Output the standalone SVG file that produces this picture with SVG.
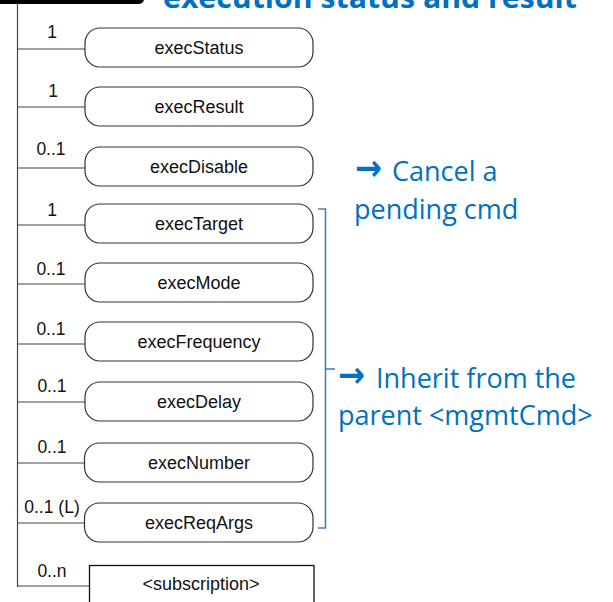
<svg xmlns="http://www.w3.org/2000/svg" width="613" height="602" viewBox="0 0 613 602">
<style>
.box{fill:#fff;stroke:#333;stroke-width:1.2}
.rect{fill:#fff;stroke:#111;stroke-width:1.3}
.name{font-family:"Liberation Sans",Arial,sans-serif;font-size:18px;fill:#111;text-anchor:middle}
.mult{font-family:"Liberation Sans",Arial,sans-serif;font-size:17.5px;fill:#111;text-anchor:middle}
.conn{stroke:#444;stroke-width:1.2;fill:none}
.note{font-family:"Open Sans","Noto Sans",sans-serif;font-size:27px;fill:#0070C0}
.arrow{font-family:"DejaVu Sans",sans-serif;font-size:36px;font-weight:bold;fill:#0070C0}
.title{font-family:"Open Sans","Noto Sans",sans-serif;font-size:29px;font-weight:bold;fill:#0070C0}
.brace{stroke:#4A7EBB;stroke-width:1.6;fill:none}
</style>
<rect x="-10" y="-20" width="154" height="24" rx="5" fill="#000"/>
<text class="title" x="163" y="8" textLength="414" lengthAdjust="spacingAndGlyphs">execution status and result</text>
<g id="connectors">
<line class="conn" x1="17.5" y1="3" x2="17.5" y2="587"/>
<line class="conn" x1="17.5" y1="49" x2="85" y2="49"/>
<line class="conn" x1="17.5" y1="107" x2="85" y2="107"/>
<line class="conn" x1="17.5" y1="168" x2="85" y2="168"/>
<line class="conn" x1="17.5" y1="225" x2="85" y2="225"/>
<line class="conn" x1="17.5" y1="284" x2="85" y2="284"/>
<line class="conn" x1="17.5" y1="344" x2="85" y2="344"/>
<line class="conn" x1="17.5" y1="402" x2="85" y2="402"/>
<line class="conn" x1="17.5" y1="463" x2="85" y2="463"/>
<line class="conn" x1="17.5" y1="523" x2="85" y2="523"/>
<line class="conn" x1="17.5" y1="586" x2="89" y2="586"/>
<text class="mult" x="52" y="38">1</text>
<text class="mult" x="53" y="97">1</text>
<text class="mult" x="51" y="155">0..1</text>
<text class="mult" x="52" y="216">1</text>
<text class="mult" x="51" y="275">0..1</text>
<text class="mult" x="51" y="335">0..1</text>
<text class="mult" x="52" y="392">0..1</text>
<text class="mult" x="52" y="453">0..1</text>
<text class="mult" x="52" y="513">0..1 (L)</text>
<text class="mult" x="52" y="577">0..n</text>
</g>
<g id="execStatus"><rect class="box" x="85" y="28" width="228" height="39" rx="15"/><text class="name" x="199" y="53.5">execStatus</text></g>
<g id="execResult"><rect class="box" x="85" y="87" width="228" height="39" rx="15"/><text class="name" x="199" y="112.5">execResult</text></g>
<g id="execDisable"><rect class="box" x="85" y="147" width="228" height="39" rx="15"/><text class="name" x="199" y="172.5">execDisable</text></g>
<g id="execTarget"><rect class="box" x="85" y="204" width="228" height="39" rx="15"/><text class="name" x="199" y="229.5">execTarget</text></g>
<g id="execMode"><rect class="box" x="85" y="263" width="228" height="39" rx="15"/><text class="name" x="199" y="288.5">execMode</text></g>
<g id="execFrequency"><rect class="box" x="85" y="322" width="228" height="39" rx="15"/><text class="name" x="199" y="347.5">execFrequency</text></g>
<g id="execDelay"><rect class="box" x="85" y="382" width="228" height="39" rx="15"/><text class="name" x="199" y="407.5">execDelay</text></g>
<g id="execNumber"><rect class="box" x="84.5" y="443" width="228.5" height="39" rx="15"/><text class="name" x="199" y="468.5">execNumber</text></g>
<g id="execReqArgs"><rect class="box" x="84.5" y="503" width="228.5" height="39" rx="15"/><text class="name" x="199" y="528.5">execReqArgs</text></g>
<g id="subscription"><rect class="rect" x="89.5" y="565.5" width="224.5" height="50"/><text class="name" x="201" y="590">&lt;subscription&gt;</text></g>
<g id="bracket">
<path class="brace" d="M318,209 H325.5 V528 H318"/>
<path class="brace" d="M325.5,369 H335"/>
</g>
<g id="notes">
<text class="arrow" x="355" y="180" textLength="27" lengthAdjust="spacingAndGlyphs">→</text>
<text class="note" x="392" y="181">Cancel a</text>
<text class="note" x="354" y="219">pending cmd</text>
<text class="arrow" x="338" y="387" textLength="27" lengthAdjust="spacingAndGlyphs">→</text>
<text class="note" x="376" y="388">Inherit from the</text>
<text class="note" x="338" y="425">parent &lt;mgmtCmd&gt;</text>
</g>
</svg>
